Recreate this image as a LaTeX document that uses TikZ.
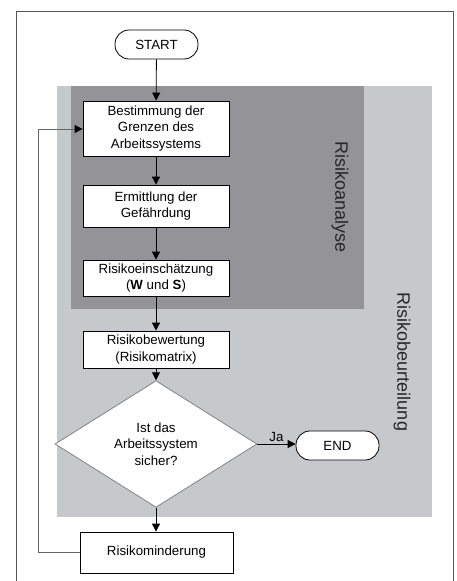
\documentclass[tikz,border=0pt]{standalone}
\usepackage{fontspec}
\setmainfont{Liberation Sans}
\usetikzlibrary{arrows.meta,shapes.geometric}
\definecolor{lightg}{RGB}{199,200,202}
\definecolor{darkg}{RGB}{148,148,150}
\definecolor{framec}{RGB}{85,85,85}
\definecolor{loopc}{RGB}{100,100,100}
\definecolor{diamc}{RGB}{130,130,130}
\begin{document}
\begin{tikzpicture}[x=1pt,y=-1pt,
  box/.style={draw=black,line width=0.8pt,fill=white,minimum width=146pt,align=center,
    font=\fontsize{13.3}{16.7}\selectfont,inner sep=0pt},
  term/.style={draw=black,line width=0.8pt,fill=white,rounded corners=14pt,minimum width=83pt,
    minimum height=29pt,inner sep=0pt,font=\fontsize{13.3}{16}\selectfont},
  flow/.style={draw=black,line width=0.8pt,-{Triangle[length=8pt,width=8pt]}},
  sidelabel/.style={font=\fontsize{18}{20}\selectfont,rotate=-90,text=black!85}]
\useasboundingbox (0,0) rectangle (456,581);
\fill[lightg] (57,86) rectangle (432,517);
\fill[darkg] (71,86) rectangle (364,309);
\draw[framec,line width=1pt] (16.5,581) -- (16.5,11.5) -- (453,11.5) -- (453,581);

\node[term] (start) at (156.5,44.5) {START};
\node[box,minimum height=55pt] (b1) at (156,128.5) {Bestimmung der\\Grenzen des\\Arbeitssystems};
\node[box,minimum height=42pt] (b2) at (156,206) {Ermittlung der\\Gefährdung};
\node[box,minimum height=36pt] (b3) at (156,278) {Risikoeinschätzung\\(\textbf{W} und \textbf{S})};
\node[box,minimum height=37pt] (b4) at (156,349.5) {Risikobewertung\\(Risikomatrix)};
\node[diamond,draw=diamc,line width=0.8pt,fill=white,minimum width=202pt,minimum height=102pt,
  inner sep=0pt,align=center,font=\fontsize{13.3}{16.7}\selectfont] (d) at (156,444)
  {Ist das\\Arbeitssystem\\sicher?};
\node[term] (end) at (337.5,445.5) {END};
\node[box,minimum width=153pt,minimum height=41pt] (rm) at (156.5,552.5) {Risikominderung};

\node[sidelabel] (ra) at (340,197) {Risikoanalyse};
\node[sidelabel] (rb) at (402,362) {Risikobeurteilung};

\draw[flow] (start) -- (b1);
\draw[flow] (b1) -- (b2);
\draw[flow] (b2) -- (b3);
\draw[flow] (b3) -- (b4);
\draw[flow] (b4) -- (d);
\draw[flow] (d.south) -- (rm.north -| d.south);
\draw[flow] (d.east) -- node[above,font=\fontsize{13.3}{16}\selectfont,inner sep=2pt] (ja) {Ja} (end.west |- d.east);
\coordinate (lb) at (38,552.5);
\coordinate (lt) at (38,129);
\draw[loopc,line width=0.8pt,-{Triangle[length=8pt,width=8pt,color=black]}] (rm.west) -- (lb) -- (lt) -- (b1.west |- lt);
\end{tikzpicture}
\end{document}
